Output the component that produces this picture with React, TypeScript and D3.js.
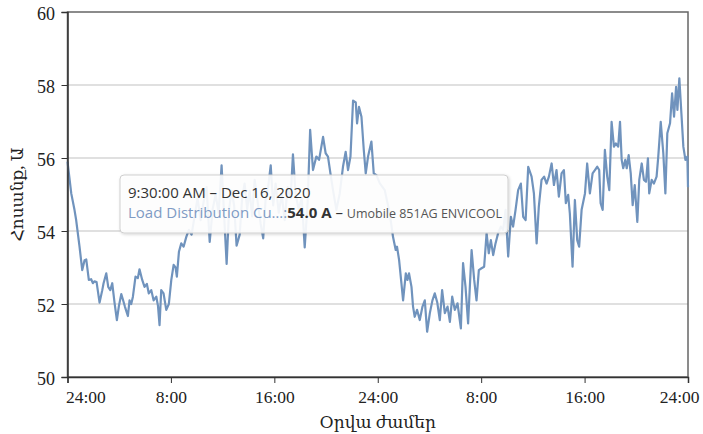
import { useEffect, useRef } from "react";
import * as d3 from "d3";

// hours since midnight Dec 16 and current in amperes
const hours = [
    0.0, 0.29, 0.54, 0.67, 0.93, 1.14, 1.32, 1.45, 1.65, 1.83, 1.96, 2.09, 2.25, 2.48, 2.69, 2.79, 3.0, 3.15,
    3.31, 3.46, 3.64, 3.82, 3.97, 4.16, 4.28, 4.44, 4.67, 4.8, 4.93, 5.06, 5.26, 5.44, 5.57, 5.78, 5.96, 6.14,
    6.29, 6.48, 6.66, 6.87, 7.0, 7.12, 7.25, 7.43, 7.64, 7.84, 8.03, 8.21, 8.36, 8.46, 8.62, 8.8, 8.98, 9.19,
    9.39, 9.6, 9.83, 10.06, 10.3, 10.53, 10.76, 11.0, 11.23, 11.46, 11.69, 11.92, 12.12, 12.31, 12.5, 12.7,
    12.89, 13.08, 13.32, 13.51, 13.7, 13.9, 14.09, 14.28, 14.48, 14.71, 14.94, 15.14, 15.33, 15.52, 15.72,
    15.91, 16.1, 16.34, 16.57, 16.8, 17.03, 17.26, 17.44, 17.65, 17.88, 18.12, 18.35, 18.58, 18.77, 18.99,
    19.25, 19.46, 19.77, 19.97, 20.15, 20.34, 20.54, 20.8, 21.06, 21.31, 21.52, 21.7, 21.89, 22.09, 22.3,
    22.4, 22.55, 22.74, 22.92, 23.07, 23.25, 23.51, 23.69, 23.9, 24.15, 24.54, 24.93, 25.18, 25.39, 25.49,
    25.65, 25.83, 25.96, 26.17, 26.3, 26.42, 26.61, 26.73, 26.86, 27.04, 27.25, 27.46, 27.64, 27.82, 28.03,
    28.23, 28.41, 28.6, 28.8, 28.98, 29.19, 29.4, 29.58, 29.76, 29.96, 30.17, 30.43, 30.6, 30.79, 30.99,
    31.26, 31.46, 31.64, 31.82, 32.03, 32.23, 32.42, 32.59, 32.75, 32.93, 33.11, 33.31, 33.52, 33.7, 33.89,
    34.09, 34.3, 34.47, 34.66, 34.86, 35.07, 35.25, 35.44, 35.64, 35.9, 36.08, 36.29, 36.46, 36.67, 36.87,
    37.06, 37.24, 37.45, 37.63, 37.83, 38.01, 38.22, 38.4, 38.55, 38.73, 38.86, 39.07, 39.25, 39.43, 39.58,
    39.77, 40.03, 40.2, 40.41, 40.62, 40.8, 40.98, 41.13, 41.24, 41.4, 41.57, 41.75, 41.91, 42.09, 42.27,
    42.42, 42.6, 42.74, 42.87, 42.99, 43.15, 43.26, 43.41, 43.57, 43.72, 43.88, 44.08, 44.23, 44.42, 44.59,
    44.75, 44.9, 45.0, 45.19, 45.36, 45.57, 45.7, 45.89, 46.09, 46.25, 46.4, 46.61, 46.77, 46.92, 47.08,
    47.18, 47.33, 47.49, 47.64, 47.8, 47.95, 48.0,
];
const amps = [
    55.9, 55.03, 54.58, 54.3, 53.57, 52.93, 53.2, 53.22, 52.66, 52.68, 52.57, 52.62, 52.6, 52.04, 52.38, 52.57, 52.84, 52.47,
    52.38, 52.57, 52.03, 51.56, 51.93, 52.27, 52.13, 51.93, 51.67, 52.1, 52.0, 52.2, 52.75, 52.71, 52.95, 52.66, 52.47, 52.55,
    52.29, 52.38, 52.1, 52.2, 51.95, 51.42, 52.38, 52.29, 51.84, 52.0, 52.66, 53.07, 53.0, 52.75, 53.43, 53.66, 53.57, 53.84,
    54.03, 53.9, 54.4, 54.9, 54.3, 54.8, 55.2, 53.7, 54.6, 55.0, 54.5, 55.8, 54.4, 53.1, 54.6, 55.1,
    54.7, 53.6, 53.9, 54.9, 55.3, 54.6, 55.1, 54.4, 55.4, 54.8, 54.2, 53.8, 54.9, 55.2, 55.8,
    54.7, 55.3, 54.5, 55.0, 54.3, 55.2, 54.9, 56.1, 55.0, 54.6, 54.9, 53.55, 54.8, 56.77, 55.67,
    56.04, 55.95, 56.58, 56.13, 56.04, 55.58, 55.12, 54.58, 55.03, 55.76, 56.17, 55.67, 56.04, 57.57, 57.52,
    56.95, 57.4, 57.13, 56.22, 55.58, 56.04, 56.45, 55.58, 55.53, 55.31, 55.12, 54.48, 53.84, 53.48, 53.57,
    53.21, 52.57, 52.1, 52.84, 52.66, 52.84, 52.47, 51.93, 51.65, 51.84, 51.56, 51.93, 52.1, 51.24, 51.75,
    52.1, 52.29, 52.05, 51.56, 52.38, 51.75, 51.93, 51.51, 52.2, 51.84, 52.02, 51.33, 53.12, 52.47, 51.47,
    53.48, 52.66, 52.1, 52.93, 52.98, 53.02, 53.94, 53.39, 53.75, 53.34, 53.66, 53.94, 54.12, 54.03, 54.58,
    53.3, 54.39, 54.12, 54.58, 55.12, 55.3, 54.39, 54.3, 55.76, 55.49, 55.03, 53.66, 54.67, 55.4, 55.49,
    55.3, 55.49, 55.85, 55.26, 55.67, 54.94, 55.58, 55.67, 54.76, 54.99, 54.48, 53.02, 54.85, 53.75, 53.57,
    54.58, 55.03, 55.85, 55.03, 55.58, 55.67, 55.76, 55.67, 54.76, 54.58, 56.22, 55.49, 55.12, 56.99, 56.31,
    56.4, 56.31, 56.99, 55.95, 55.72, 55.95, 55.72, 56.08, 55.58, 54.71, 55.26, 54.25, 55.4, 55.85, 55.4,
    55.35, 55.99, 55.03, 55.4, 55.3, 55.49, 56.04, 56.99, 56.13, 55.03, 56.68, 56.95, 57.77, 57.13, 57.95,
    57.32, 58.18, 57.22, 56.31, 55.95, 56.04, 55.2,
];

const xTicks = [0, 8, 16, 24, 32, 40, 48];
const xTickLabels = ["24:00", "8:00", "16:00", "24:00", "8:00", "16:00", "24:00"];
const yTicks = [50, 52, 54, 56, 58, 60];

const tipTime = "9:30:00 AM – Dec 16, 2020";
const tipSeries = "Load Distribution Cu…:";
const tipValue = "54.0 A";
const tipDevice = "Umobile 851AG ENVICOOL";

const serif = "'Liberation Serif', 'DejaVu Serif', serif";

export default function App() {
    const ref = useRef<SVGSVGElement | null>(null);

    useEffect(() => {
        const width = 703;
        const height = 434;
        const margin = { top: 12, right: 15, bottom: 57, left: 67.5 };

        const svg = d3.select(ref.current);
        svg.selectAll("*").remove();

        const x = d3.scaleLinear().domain([0, 48]).range([margin.left, width - margin.right]);
        const y = d3.scaleLinear().domain([50, 60]).range([height - margin.bottom, margin.top]);

        // grid
        svg.append("g")
            .selectAll("line")
            .data(yTicks.filter((t) => t > 50 && t < 60))
            .join("line")
            .attr("x1", x(0))
            .attr("x2", x(48))
            .attr("y1", (d) => y(d))
            .attr("y2", (d) => y(d))
            .attr("stroke", "#d6d6d6")
            .attr("stroke-width", 1.5);

        // frame
        svg.append("rect")
            .attr("x", x(0))
            .attr("y", y(60))
            .attr("width", x(48) - x(0))
            .attr("height", y(50) - y(60))
            .attr("fill", "none")
            .attr("stroke", "#666")
            .attr("stroke-width", 1.5);

        // series
        const pts = hours.map((h, i) => [h, amps[i]] as [number, number]);
        const line = d3
            .line<[number, number]>()
            .x((d) => x(d[0]))
            .y((d) => y(d[1]));
        svg.append("path")
            .datum(pts)
            .attr("d", line)
            .attr("fill", "none")
            .attr("stroke", "#7093bd")
            .attr("stroke-width", 2.2)
            .attr("stroke-linejoin", "round");

        // axes
        const xAxis = d3
            .axisBottom(x)
            .tickValues(xTicks)
            .tickFormat((_, i) => xTickLabels[i])
            .tickSize(6)
            .tickPadding(7.5);
        const gx = svg.append("g").attr("transform", `translate(0,${y(50)})`).call(xAxis);
        gx.select(".domain").attr("stroke", "#333").attr("stroke-width", 1.5);
        gx.selectAll(".tick line").attr("stroke", "#333");
        gx.selectAll("text")
            .style("font-family", serif)
            .style("font-size", "17.5px")
            .attr("fill", "#222");
        // end labels are kept inside the plot width, as the original does
        gx.selectAll<SVGTextElement, number>("text")
            .filter((d) => d === 0)
            .attr("text-anchor", "start")
            .attr("dx", -2);
        gx.selectAll<SVGTextElement, number>("text")
            .filter((d) => d === 48)
            .attr("text-anchor", "end")
            .attr("dx", 11);

        const yAxis = d3
            .axisLeft(y)
            .tickValues(yTicks)
            .tickFormat(d3.format("d"))
            .tickSize(6)
            .tickPadding(6.5);
        const gy = svg.append("g").attr("transform", `translate(${x(0)},0)`).call(yAxis);
        gy.select(".domain").attr("stroke", "#333").attr("stroke-width", 1.5);
        gy.selectAll(".tick line").attr("stroke", "#333");
        gy.selectAll("text")
            .style("font-family", serif)
            .style("font-size", "18px")
            .attr("dy", "0.42em")
            .attr("fill", "#222");

        // axis titles
        svg.append("text")
            .attr("x", (x(0) + x(48)) / 2)
            .attr("y", 428)
            .attr("text-anchor", "middle")
            .style("font-family", serif)
            .style("font-size", "17px")
            .attr("fill", "#222")
            .text("Օրվա ժամեր");
        svg.append("text")
            .attr("transform", `translate(23,${(y(50) + y(60)) / 2}) rotate(-90)`)
            .attr("text-anchor", "middle")
            .style("font-family", serif)
            .style("font-size", "17px")
            .attr("fill", "#222")
            .text("Հոսանք, Ա");

        // tooltip
        const defs = svg.append("defs");
        const f = defs.append("filter").attr("id", "shadow").attr("x", "-10%").attr("y", "-30%").attr("width", "120%").attr("height", "160%");
        f.append("feDropShadow").attr("dx", 1).attr("dy", 1).attr("stdDeviation", 1.5).attr("flood-color", "#000").attr("flood-opacity", 0.18);

        const tip = svg.append("g").attr("transform", "translate(120,175)");
        tip.append("rect")
            .attr("width", 388)
            .attr("height", 58)
            .attr("rx", 4)
            .attr("fill", "rgba(255,255,255,0.9)")
            .attr("stroke", "#cfcfcf")
            .attr("stroke-width", 1)
            .attr("filter", "url(#shadow)");
        tip.append("text")
            .attr("x", 8)
            .attr("y", 23)
            .style("font-family", "'Open Sans', sans-serif")
            .style("font-size", "15px")
            .attr("fill", "#333")
            .text(tipTime);
        const t2 = tip.append("text")
            .attr("x", 8)
            .attr("y", 43)
            .style("font-family", "'Open Sans', sans-serif")
            .style("font-size", "15px");
        t2.append("tspan").attr("fill", "#7f9bc4").text(tipSeries);
        t2.append("tspan").attr("fill", "#333").attr("font-weight", "bold").text(tipValue);
        t2.append("tspan").attr("fill", "#333").text(" – ");
        t2.append("tspan").attr("fill", "#555").style("font-size", "12.5px").text(tipDevice);
    }, []);

    return (
        <svg
            ref={ref}
            width={703}
            height={434}
            style={{ position: "absolute", left: 0, top: 0, background: "#fff" }}
        />
    );
}
